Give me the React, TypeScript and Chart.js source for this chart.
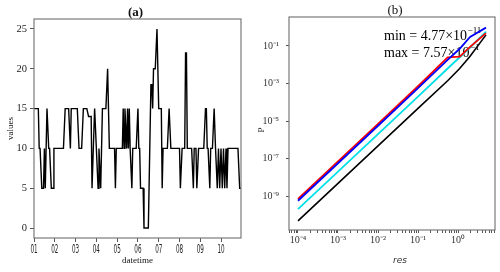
import React, { useEffect, useRef } from "react";
import { Chart, registerables } from "chart.js";
Chart.register(...registerables);

// ---------- Panel (a) data ----------
const hours = [
  0, 5, 6, 7, 9, 11, 12, 13, 15, 17, 18, 20, 22, 23, 34, 36, 40, 42, 43, 50, 52, 55, 57, 61, 63, 66,
  67, 68, 70, 74, 75, 77, 79, 83, 85, 86, 87, 93, 94, 95, 102, 103, 104, 105, 107, 108, 109, 110, 111,
  113, 114, 118, 120, 121, 122, 123, 126, 127, 132, 135, 136, 137, 138, 140, 142, 144, 147, 148, 149,
  154, 156, 158, 168, 169, 171, 174, 175, 176, 177, 182, 184, 185, 187, 188, 190, 196, 198, 199, 200,
  201, 203, 204, 206, 208, 209.6, 211.6, 213.0, 214.4, 215.9, 217.4, 218.8, 220.2, 221.7, 222.8, 224.0,
  235.5, 237.5, 239,
];
const values = [
  15, 15, 10, 10, 5, 5, 10, 5, 15, 10, 10, 5, 5, 10, 10, 15, 15, 10, 15, 15, 10, 10, 15, 15, 14, 14,
  5, 5, 15, 5, 10, 5, 15, 15, 20, 15, 10, 10, 5, 10, 10, 15, 10, 15, 10, 15, 10, 15, 10,
  5, 10, 10, 15, 10, 10, 5, 5, 0, 0, 18, 18, 15, 20, 20, 25, 15, 15, 5, 10,
  10, 15, 10, 10, 5, 10, 10, 22, 22, 10, 10, 5, 10, 10, 5, 10, 10, 15, 15, 10,
  10, 5, 10, 10, 15, 10, 5, 10, 5, 10, 5, 10, 5, 10, 5, 10,
  10, 5, 5,
];
const dayTickHours = [0, 24, 48, 72, 96, 120, 144, 168, 192, 216];
const dayTickLabels = ["01", "02", "03", "04", "05", "06", "07", "08", "09", "10"];
const yTicksA = [0, 5, 10, 15, 20, 25];

// ---------- Panel (b) data ----------
const res = [1e-4, 1e-3, 1e-2, 1e-1, 0.55, 1.1, 2, 5];
const pRed = [7.1e-10, 7.1e-8, 7.1e-6, 7.1e-4, 2.5e-2, 2.7e-2, 8.9e-2, 0.48];
const pBlue = [5.6e-10, 5.6e-8, 5.6e-6, 5.6e-4, 1.8e-2, 7.1e-2, 0.3, 0.95];
const pCyan = [2.0e-10, 2.0e-8, 2.0e-6, 2.0e-4, 6.3e-3, 2.5e-2, 8.3e-2, 0.58];
const pBlack = [4.77e-11, 4.7e-9, 4.7e-7, 4.7e-5, 1.4e-3, 6.3e-3, 2.8e-2, 0.39];
const yTicksB = [1e-9, 1e-7, 1e-5, 1e-3, 1e-1];
const yTickLabelsB = ["10⁻⁹", "10⁻⁷", "10⁻⁵", "10⁻³", "10⁻¹"];
const xMajorB = [1e-4, 1e-3, 1e-2, 1e-1, 1];
const xMajorLabelsB = ["10⁻⁴", "10⁻³", "10⁻²", "10⁻¹", "10⁰"];
const minText = { base: "min = 4.77×10", exp: "−11" };
const maxText = { base: "max = 7.57×10", exp: "−1" };

const SERIF = '"Liberation Serif", "Times New Roman", serif';
const FRAME = "#7a7a7a";
const TICK = "#555555";

function ChartA() {
  const ref = useRef<HTMLCanvasElement>(null);
  useEffect(() => {
    if (!ref.current) return;
    const pts = hours.map((h, i) => ({ x: h, y: values[i] }));
    const deco = {
      id: "decoA",
      afterDraw(chart: any) {
        const { ctx, chartArea: ca } = chart;
        ctx.save();
        ctx.strokeStyle = FRAME;
        ctx.lineWidth = 1.2;
        ctx.strokeRect(ca.left, ca.top, ca.right - ca.left, ca.bottom - ca.top);
        ctx.fillStyle = "#111";
        ctx.textAlign = "center";
        ctx.textBaseline = "middle";
        ctx.font = `bold 13px ${SERIF}`;
        ctx.fillText("(a)", (ca.left + ca.right) / 2 - 2, 12.5);
        ctx.font = `9px ${SERIF}`;
        ctx.fillText("datetime", (ca.left + ca.right) / 2, 261);
        ctx.save();
        ctx.translate(11, (ca.top + ca.bottom) / 2);
        ctx.rotate(-Math.PI / 2);
        ctx.fillText("values", 0, 0);
        ctx.restore();
        const xs = chart.scales.x;
        ctx.fillStyle = "#222";
        dayTickHours.forEach((h, i) => {
          const px = xs.getPixelForValue(h);
          ctx.save();
          ctx.translate(px, 249.5);
          ctx.scale(0.47, 1);
          ctx.font = '12px "DejaVu Sans", sans-serif';
          ctx.fillText(dayTickLabels[i], 0, 0);
          ctx.restore();
        });
        ctx.restore();
      },
    };
    const chart = new Chart(ref.current, {
      type: "line",
      data: {
        datasets: [
          { data: pts, borderColor: "#000", borderWidth: 1.4, pointRadius: 0, tension: 0, fill: false },
        ],
      },
      options: {
        animation: false,
        responsive: false,
        events: [],
        layout: { padding: { left: 0, right: 9, top: 19, bottom: 0 } },
        plugins: { legend: { display: false }, tooltip: { enabled: false }, title: { display: false } },
        scales: {
          x: {
            type: "linear",
            min: 0,
            max: 239,
            afterBuildTicks: (s: any) => {
              s.ticks = dayTickHours.map((v) => ({ value: v }));
            },
            afterFit: (s: any) => {
              s.height = 34;
            },
            ticks: { display: false, autoSkip: false },
            grid: { display: true, drawOnChartArea: false, drawTicks: true, tickLength: 4, color: TICK, tickColor: TICK },
            border: { display: false },
          },
          y: {
            type: "linear",
            min: -1.25,
            max: 26.25,
            afterBuildTicks: (s: any) => {
              s.ticks = yTicksA.map((v) => ({ value: v }));
            },
            afterFit: (s: any) => {
              s.width = 34;
            },
            ticks: { autoSkip: false, padding: 3, color: "#222", font: { family: SERIF, size: 10.5 } },
            grid: { display: true, drawOnChartArea: false, drawTicks: true, tickLength: 4, color: TICK, tickColor: TICK },
            border: { display: false },
          },
        },
      },
      plugins: [deco],
    } as any);
    return () => chart.destroy();
  }, []);
  return <canvas ref={ref} width={250} height={272} style={{ position: "absolute", left: 0, top: 0 }} />;
}

function ChartB() {
  const ref = useRef<HTMLCanvasElement>(null);
  useEffect(() => {
    if (!ref.current) return;
    const mk = (arr: number[]) => res.map((r, i) => ({ x: r, y: arr[i] }));
    const xAllTicks: { value: number; major: boolean }[] = [];
    [1e-5, 1e-4, 1e-3, 1e-2, 1e-1, 1].forEach((dec) => {
      for (let m = 1; m <= 9; m++) {
        const v = dec * m;
        if (v >= 5.9e-5 && v <= 8.4) xAllTicks.push({ value: v, major: m === 1 });
      }
    });
    const drawSci = (ctx: any, x: number, y: number, t: { base: string; exp: string }) => {
      ctx.font = `14px ${SERIF}`;
      ctx.fillText(t.base, x, y);
      const w = ctx.measureText(t.base).width;
      ctx.font = `9px ${SERIF}`;
      ctx.fillText(t.exp, x + w + 0.5, y - 7);
    };
    const deco = {
      id: "decoB",
      beforeDatasetsDraw(chart: any) {
        const { ctx } = chart;
        ctx.save();
        ctx.fillStyle = "#000";
        ctx.textAlign = "left";
        ctx.textBaseline = "alphabetic";
        drawSci(ctx, 134, 40, minText);
        drawSci(ctx, 134, 57, maxText);
        ctx.restore();
      },
      afterDraw(chart: any) {
        const { ctx, chartArea: ca } = chart;
        ctx.save();
        ctx.strokeStyle = FRAME;
        ctx.lineWidth = 1.2;
        ctx.strokeRect(ca.left, ca.top, ca.right - ca.left, ca.bottom - ca.top);
        ctx.fillStyle = "#111";
        ctx.textAlign = "center";
        ctx.textBaseline = "middle";
        ctx.font = `13px ${SERIF}`;
        ctx.fillText("(b)", 145, 10.5);
        ctx.font = `italic 9px "DejaVu Sans", sans-serif`;
        ctx.fillStyle = "#333";
        ctx.fillText("res", 150, 261);
        ctx.fillStyle = "#222";
        ctx.font = `9px ${SERIF}`;
        ctx.save();
        ctx.translate(12, 130);
        ctx.rotate(-Math.PI / 2);
        ctx.fillText("P", 0, 0);
        ctx.restore();
        ctx.restore();
      },
    };
    const chart = new Chart(ref.current, {
      type: "line",
      data: {
        datasets: [
          { data: mk(pBlue), borderColor: "#0000ff", borderWidth: 1.8, pointRadius: 0, tension: 0, fill: false },
          { data: mk(pRed), borderColor: "#ff0000", borderWidth: 1.8, pointRadius: 0, tension: 0, fill: false },
          { data: mk(pCyan), borderColor: "#00e0e8", borderWidth: 1.8, pointRadius: 0, tension: 0, fill: false },
          { data: mk(pBlack), borderColor: "#000000", borderWidth: 1.6, pointRadius: 0, tension: 0, fill: false },
        ],
      },
      options: {
        animation: false,
        responsive: false,
        events: [],
        layout: { padding: { left: 0, right: 5, top: 17, bottom: 0 } },
        plugins: { legend: { display: false }, tooltip: { enabled: false }, title: { display: false } },
        scales: {
          x: {
            type: "logarithmic",
            min: 5.96e-5,
            max: 8.4,
            afterBuildTicks: (s: any) => {
              s.ticks = xAllTicks.map((t) => ({ ...t }));
            },
            afterFit: (s: any) => {
              s.height = 42;
            },
            ticks: {
              autoSkip: false,
              maxRotation: 0,
              minRotation: 0,
              padding: 1,
              color: "#333",
              font: { family: SERIF, size: 10 },
              callback: (value: any) => {
                const i = xMajorB.findIndex((m) => Math.abs(m - value) / m < 1e-6);
                return i >= 0 ? xMajorLabelsB[i] : "";
              },
            },
            grid: { display: true, drawOnChartArea: false, drawTicks: true, tickLength: 3, color: TICK, tickColor: TICK },
            border: { display: false },
          },
          y: {
            type: "logarithmic",
            min: 1.55e-11,
            max: 3.5,
            afterBuildTicks: (s: any) => {
              s.ticks = yTicksB.map((v) => ({ value: v, major: true }));
            },
            afterFit: (s: any) => {
              s.width = 39;
            },
            ticks: {
              autoSkip: false,
              padding: 7,
              color: "#333",
              font: { family: SERIF, size: 10 },
              callback: (value: any) => {
                const i = yTicksB.findIndex((m) => Math.abs(m - value) / m < 1e-6);
                return i >= 0 ? yTickLabelsB[i] : "";
              },
            },
            grid: { display: true, drawOnChartArea: false, drawTicks: true, tickLength: 3, color: TICK, tickColor: TICK },
            border: { display: false },
          },
        },
      },
      plugins: [deco],
    } as any);
    return () => chart.destroy();
  }, []);
  return <canvas ref={ref} width={250} height={272} style={{ position: "absolute", left: 250, top: 0 }} />;
}

export default function App() {
  return (
    <div style={{ position: "fixed", left: 0, top: 0, width: 500, height: 272, background: "#fff" }}>
      <ChartA />
      <ChartB />
    </div>
  );
}
